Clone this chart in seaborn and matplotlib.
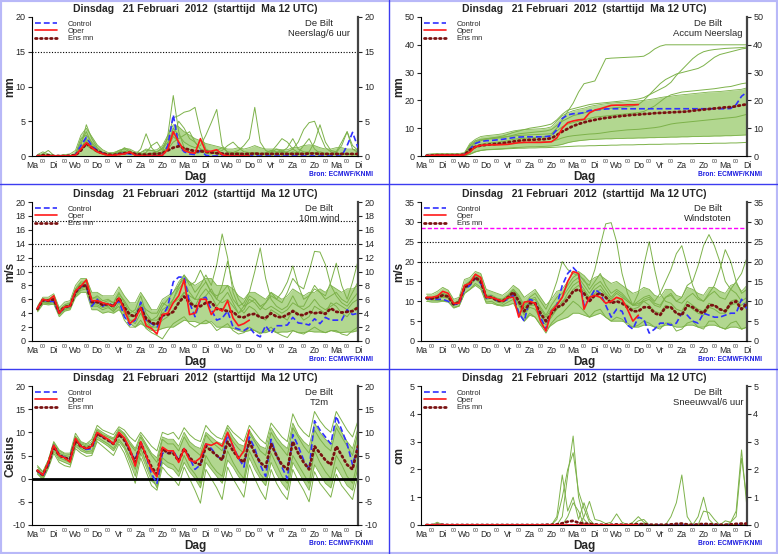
import numpy as np
import pandas as pd
import matplotlib
matplotlib.use("Agg")
import matplotlib.pyplot as plt
from matplotlib.lines import Line2D
from matplotlib.patches import Rectangle
import seaborn as sns

sns.set_style("white")
plt.rcParams["font.family"] = ["Liberation Sans", "DejaVu Sans"]
plt.rcParams["axes.unicode_minus"] = False

# tijdas: 6-uurs stappen na de start (Ma 12 UTC)
uur = list(range(6, 361, 6))
dagen = ["Ma", "Di", "Wo", "Do", "Vr", "Za", "Zo", "Ma",
         "Di", "Wo", "Do", "Vr", "Za", "Zo", "Ma", "Di"]
titel = "Dinsdag   21 Februari  2012  (starttijd  Ma 12 UTC)"

# ---------------- neerslag per 6 uur ----------------
rain_control = [0, 0, 0, 0, 0, 0, 0, 0.2, 1.5, 2.7,
                1.5, 0.8, 0.4, 0.1, 0.1, 0.3, 0.4, 0.3, 0.1, 0,
                0, 0, 0, 0.1, 1.5, 5.9, 1.5, 0.6, 0.3, 0.2,
                0.8, 0.1, 0, 0, 0, 0, 0, 0, 0, 0,
                0, 0, 0, 0, 0, 0, 0, 0, 0, 0,
                0, 0, 0, 0, 0, 0, 0, 1.5, 3.4, 1.2]
rain_oper = [0, 0, 0, 0, 0, 0, 0, 0.1, 1.0, 1.9,
             1.2, 0.6, 0.3, 0.1, 0.1, 0.2, 0.3, 0.6, 0.1, 0,
             0, 0, 0, 0.1, 1.0, 3.5, 2.0, 0.8, 0.5, 0.4,
             2.5, 0.6, 0.7, 0.9, 0.2, 0, 0, 0, 0, 0]
rain_mean = [0, 0.1, 0.1, 0, 0, 0, 0.05, 0.1, 0.8, 1.8,
             1.2, 0.7, 0.4, 0.2, 0.15, 0.3, 0.4, 0.5, 0.3, 0.2,
             0.2, 0.3, 0.3, 0.4, 0.8, 1.2, 1.4, 1.1, 0.9, 0.7,
             0.7, 0.6, 0.5, 0.4, 0.35, 0.3, 0.3, 0.3, 0.3, 0.3,
             0.35, 0.3, 0.3, 0.3, 0.3, 0.3, 0.3, 0.3, 0.3, 0.3,
             0.35, 0.35, 0.3, 0.3, 0.3, 0.3, 0.3, 0.3, 0.3, 0.3]
rain_hi = [0.2, 0.6, 0.3, 0.1, 0.1, 0.2, 0.3, 0.8, 3.0, 4.0,
           2.8, 1.6, 0.9, 0.5, 0.5, 0.8, 1.1, 1.0, 0.6, 0.5,
           0.8, 0.8, 0.9, 1.5, 3.0, 4.5, 4.2, 3.5, 3.0, 2.5,
           2.2, 1.8, 1.6, 1.4, 1.2, 1.0, 1.0, 1.2, 1.0, 1.2,
           1.5, 1.2, 1.0, 1.0, 1.0, 0.9, 0.9, 1.2, 1.2, 1.5,
           1.6, 1.5, 1.2, 1.0, 1.0, 1.2, 1.2, 1.0, 1.0, 0.8]
rain_lo = [0, 0, 0, 0, 0, 0, 0, 0, 0, 0,
           0, 0, 0, 0, 0, 0, 0, 0, 0, 0,
           0, 0, 0, 0, 0, 0, 0, 0, 0, 0,
           0, 0, 0, 0, 0, 0, 0, 0, 0, 0,
           0, 0, 0, 0, 0, 0, 0, 0, 0, 0,
           0, 0, 0, 0, 0, 0, 0, 0, 0, 0]
rain_m1 = [0, 0.3, 0.8, 0.1, 0, 0, 0, 0.3, 2.0, 3.5,
           1.8, 0.6, 0.3, 0.2, 0.2, 0.5, 1.2, 0.8, 0.2, 0.1,
           0.2, 0.3, 0.2, 0.5, 3.0, 8.7, 3.5, 1.2, 0.6, 0.4,
           0.5, 0.8, 0.5, 0.3, 0.2, 0.2, 0.3, 0.5, 0.3, 0.2,
           0.4, 0.3, 0.2, 0.2, 0.5, 0.8, 0.4, 0.3, 0.2, 0.3,
           0.5, 0.4, 0.2, 0.2, 0.3, 0.2, 0.2, 0.3, 0.2, 0.2]
rain_m2 = [0, 0, 0.2, 0, 0, 0, 0, 0.2, 1.5, 4.5,
           2.5, 1.2, 0.5, 0.2, 0.3, 0.8, 1.0, 0.6, 0.3, 0.5,
           1.0, 0.8, 0.6, 1.2, 2.5, 5.5, 5.8, 6.3, 6.5, 7.0,
           3.5, 1.0, 0.6, 0.4, 0.3, 0.2, 0.2, 0.2, 0.1, 0.2,
           0.3, 0.2, 0.2, 0.5, 1.0, 0.6, 0.3, 0.2, 0.5, 1.5,
           2.5, 1.0, 0.4, 0.2, 0.2, 0.3, 0.4, 0.3, 0.2, 0.3]
rain_m3 = [0, 0, 0, 0, 0, 0, 0, 0.1, 1.0, 2.5,
           1.5, 0.8, 0.4, 0.3, 0.2, 0.3, 0.5, 0.4, 0.2, 1.0,
           3.2, 1.2, 0.3, 0.4, 1.5, 4.0, 3.0, 2.0, 1.5, 1.2,
           1.5, 3.0, 4.8, 6.7, 1.5, 0.5, 0.3, 0.2, 0.2, 0.3,
           0.5, 0.4, 0.3, 0.2, 0.2, 0.2, 0.3, 0.6, 0.4, 0.3,
           0.3, 0.5, 0.6, 0.4, 0.3, 0.5, 1.5, 3.5, 1.0, 0.5]
rain_m4 = [0, 0, 0, 0, 0, 0, 0, 0.3, 2.5, 3.0,
           2.0, 1.0, 0.5, 0.3, 0.4, 0.6, 0.7, 0.4, 0.2, 0.2,
           0.3, 0.4, 0.6, 1.0, 2.0, 3.0, 5.0, 4.0, 2.5, 2.0,
           1.0, 0.6, 0.5, 0.8, 1.2, 0.6, 0.5, 0.8, 1.5, 2.5,
           7.0, 2.0, 0.8, 0.5, 0.4, 0.6, 1.2, 2.5, 1.0, 0.6,
           0.5, 0.4, 0.3, 0.3, 0.2, 0.2, 0.3, 0.2, 0.2, 0.2]
rain_m5 = [0, 0, 0, 0, 0, 0, 0, 0.2, 1.2, 2.2,
           1.2, 0.6, 0.3, 0.2, 0.2, 0.4, 0.6, 0.5, 0.3, 0.3,
           0.5, 1.5, 2.0, 0.8, 1.0, 2.0, 2.5, 3.0, 3.5, 2.0,
           1.0, 0.8, 0.6, 0.4, 0.3, 0.4, 0.5, 0.4, 0.3, 0.2,
           0.2, 0.3, 0.5, 0.8, 0.6, 0.5, 0.6, 1.0, 2.0, 3.8,
           4.8, 5.0, 3.0, 1.2, 0.6, 0.4, 0.3, 0.3, 0.2, 0.2]
rain_m6 = [0, 0, 0, 0, 0, 0, 0, 0.1, 0.8, 1.5,
           1.0, 0.5, 0.3, 0.2, 0.2, 0.3, 0.4, 0.6, 0.4, 0.3,
           0.2, 0.3, 0.4, 0.6, 1.2, 2.8, 2.0, 1.0, 0.6, 0.5,
           0.6, 0.4, 0.3, 0.5, 0.8, 1.5, 2.0, 1.2, 0.6, 0.5,
           0.4, 0.3, 0.3, 0.6, 1.5, 2.5, 2.0, 1.0, 0.5, 0.4,
           0.6, 2.0, 4.5, 2.0, 0.8, 0.6, 2.0, 3.5, 1.5, 0.8]

# ---------------- geaccumuleerde neerslag ----------------
accum_control = [0.1, 0.2, 0.3, 0.3, 0.3, 0.3, 0.3, 0.5, 2.5, 4.5,
                 5.2, 5.5, 5.6, 5.8, 6.0, 6.3, 6.6, 6.8, 6.9, 6.9,
                 6.9, 6.9, 7.0, 7.2, 9.5, 13.5, 14.8, 15.2, 15.3, 15.6,
                 16.4, 16.6, 16.7, 16.9, 17.0, 17.0, 17.0, 17.0, 17.0, 17.0,
                 17.0, 17.0, 17.0, 17.0, 17.0, 17.0, 17.0, 17.0, 17.0, 17.0,
                 17.0, 17.0, 17.0, 17.0, 17.0, 17.0, 17.1, 18.5, 21.5, 23.0]
accum_oper = [0.1, 0.2, 0.3, 0.3, 0.3, 0.3, 0.3, 0.4, 1.4, 3.3,
              3.8, 4.0, 4.0, 4.0, 4.1, 4.2, 4.5, 4.8, 4.9, 4.9,
              4.9, 4.9, 5.0, 5.1, 6.5, 10.0, 12.0, 12.6, 13.0, 13.2,
              15.5, 16.5, 17.0, 17.6, 18.2, 18.3, 18.3, 18.4, 18.4, 18.5]
accum_mean = [0.1, 0.2, 0.3, 0.3, 0.3, 0.3, 0.35, 0.5, 2.2, 3.3,
              3.8, 4.0, 4.2, 4.4, 4.6, 4.9, 5.2, 5.5, 5.7, 5.8,
              5.9, 6.0, 6.1, 6.4, 7.5, 8.8, 9.8, 10.8, 11.5, 12.1,
              12.6, 13.0, 13.4, 13.7, 13.9, 14.2, 14.4, 14.6, 14.8, 14.9,
              15.1, 15.2, 15.4, 15.5, 15.6, 15.7, 15.8, 15.9, 16.0, 16.3,
              16.5, 16.7, 16.9, 17.1, 17.3, 17.5, 17.6, 17.9, 18.3, 18.6]
accum_lo = [0, 0, 0, 0, 0, 0, 0, 0.1, 0.6, 1.5,
            2.0, 2.3, 2.4, 2.5, 2.6, 2.8, 3.0, 3.1, 3.2, 3.3,
            3.3, 3.4, 3.5, 3.6, 3.8, 4.2, 4.8, 5.2, 5.5, 5.7,
            5.9, 6.0, 6.1, 6.2, 6.2, 6.3, 6.3, 6.4, 6.4, 6.5,
            6.5, 6.6, 6.6, 6.7, 6.7, 6.8, 6.8, 6.9, 6.9, 7.0,
            7.0, 7.1, 7.1, 7.2, 7.2, 7.3, 7.3, 7.4, 7.5, 7.6]
accum_hi = [0.6, 0.8, 0.9, 0.9, 0.9, 0.9, 0.9, 1.2, 4.5, 6.0,
            7.0, 7.3, 7.5, 7.7, 8.0, 8.5, 9.0, 9.3, 9.5, 9.6,
            9.7, 9.8, 10.0, 10.5, 12.5, 14.5, 15.5, 16.3, 16.8, 17.2,
            17.8, 18.2, 18.5, 18.8, 19.0, 19.2, 19.3, 19.5, 19.6, 19.8,
            20.0, 20.3, 20.6, 21.0, 21.3, 21.5, 21.8, 22.0, 22.2, 22.4,
            22.6, 22.8, 23.0, 23.1, 23.2, 23.4, 23.6, 23.8, 24.0, 24.5]
accum_m1 = [0.1, 0.3, 0.5, 0.5, 0.5, 0.5, 0.5, 0.8, 4.0, 5.5,
            6.0, 6.2, 6.4, 6.6, 6.8, 7.0, 7.2, 7.4, 7.5, 7.6,
            7.7, 7.8, 7.9, 8.0, 10.0, 13.0, 16.0, 19.0, 23.0, 26.0,
            26.5, 27.0, 31.0, 35.0, 35.2, 35.3, 35.4, 35.5, 35.6, 35.7,
            35.9, 37.0, 38.5, 39.5, 40.0, 40.0, 40.0, 40.0, 40.0, 40.0,
            40.0, 40.0, 40.0, 40.0, 40.0, 40.0, 40.0, 40.0, 40.0, 40.0]
accum_m2 = [0.1, 0.2, 0.3, 0.3, 0.3, 0.3, 0.3, 0.5, 3.0, 4.5,
            5.5, 6.0, 6.2, 6.4, 6.6, 7.0, 7.5, 8.0, 8.2, 8.4,
            8.6, 8.8, 9.0, 9.5, 11.0, 12.5, 13.5, 14.5, 15.0, 15.5,
            16.0, 16.5, 16.8, 17.0, 17.2, 17.4, 17.6, 17.8, 18.0, 18.5,
            20.0, 22.0, 23.0, 24.0, 25.0, 26.5, 29.0, 31.0, 33.0, 35.0,
            36.5, 37.5, 38.0, 38.3, 38.5, 38.7, 38.8, 38.9, 39.0, 39.2]
accum_m3 = [0, 0.1, 0.2, 0.2, 0.2, 0.2, 0.2, 0.4, 2.0, 3.5,
            4.2, 4.6, 4.8, 5.0, 5.2, 5.5, 6.0, 6.2, 6.4, 6.5,
            6.6, 6.8, 7.0, 7.5, 9.0, 10.5, 11.5, 12.0, 12.5, 13.0,
            13.5, 14.0, 14.2, 14.4, 14.6, 14.8, 15.0, 15.2, 15.4, 15.6,
            16.0, 17.0, 18.0, 19.5, 21.0, 22.0, 22.5, 23.0, 23.2, 23.4,
            23.6, 23.8, 24.0, 24.2, 24.5, 24.8, 25.0, 25.5, 26.0, 26.3]
accum_m4 = [0.1, 0.2, 0.3, 0.3, 0.3, 0.3, 0.3, 0.6, 3.5, 5.0,
            5.8, 6.2, 6.5, 6.8, 7.2, 7.8, 8.5, 9.0, 9.5, 10.0,
            10.3, 10.6, 11.0, 11.5, 13.0, 15.0, 16.5, 17.0, 17.5, 18.0,
            18.5, 18.8, 19.0, 19.2, 19.4, 19.6, 19.8, 20.0, 20.2, 20.5,
            21.0, 22.0, 24.0, 26.0, 27.5, 28.5, 29.5, 30.0, 30.5, 31.0,
            31.5, 32.5, 34.0, 35.5, 36.5, 37.0, 37.5, 38.0, 38.5, 38.8]
accum_m5 = [0, 0, 0.1, 0.1, 0.1, 0.1, 0.1, 0.2, 0.8, 1.5,
            2.0, 2.2, 2.3, 2.4, 2.5, 2.6, 2.7, 2.8, 2.8, 2.9,
            2.9, 3.0, 3.0, 3.1, 3.2, 3.3, 3.4, 3.5, 3.6, 3.6,
            3.7, 3.7, 3.8, 3.8, 3.9, 3.9, 4.0, 4.0, 4.0, 4.1,
            4.1, 4.2, 4.2, 4.2, 4.3, 4.3, 4.3, 4.4, 4.4, 4.4,
            4.5, 4.5, 4.5, 4.6, 4.6, 4.6, 4.7, 4.7, 4.8, 4.9]
accum_m6 = [0.1, 0.2, 0.2, 0.2, 0.2, 0.2, 0.2, 0.3, 1.5, 3.0,
            3.5, 3.8, 4.0, 4.1, 4.2, 4.3, 4.5, 4.7, 4.8, 4.9,
            5.0, 5.0, 5.1, 5.2, 5.8, 6.5, 7.0, 7.3, 7.5, 7.7,
            7.9, 8.0, 8.2, 8.5, 8.8, 9.0, 9.2, 9.4, 9.5, 9.6,
            9.8, 10.0, 10.2, 10.5, 11.0, 11.5, 11.8, 12.0, 12.2, 12.4,
            12.6, 12.8, 13.0, 13.2, 13.4, 13.6, 13.8, 14.0, 14.5, 15.0]

# ---------------- 10m wind ----------------
wind_control = [4.6, 5.9, 5.7, 5.7, 4.0, 4.8, 5.0, 7.0, 7.8, 8.0,
                5.0, 6.0, 5.0, 5.5, 5.0, 5.8, 3.5, 2.3, 3.0, 5.6,
                3.0, 2.5, 2.0, 3.5, 5.0, 8.5, 9.2, 9.2, 5.5, 3.5,
                6.0, 6.3, 4.5, 3.0, 3.3, 4.3, 2.0, 1.7, 1.5, 2.0,
                1.0, 0.6, 2.2, 1.1, 2.2, 2.2, 2.3, 3.4, 2.6, 2.5,
                2.3, 3.2, 2.5, 3.4, 3.0, 3.0, 3.0, 4.5, 3.8, 4.0]
wind_oper = [4.7, 6.0, 5.8, 6.5, 4.0, 4.9, 5.0, 7.2, 7.9, 8.8,
             5.8, 5.8, 5.5, 5.3, 5.0, 6.2, 4.5, 2.5, 3.2, 4.8,
             2.2, 1.8, 1.0, 3.8, 4.0, 5.5, 6.5, 8.8, 3.8, 4.0,
             6.0, 6.0, 3.8, 4.8, 4.3, 5.8, 3.3, 2.2, 2.5, 3.0]
wind_mean = [4.6, 5.9, 5.8, 6.0, 4.1, 4.9, 5.0, 7.0, 7.9, 8.0,
             5.6, 5.6, 5.2, 5.3, 5.0, 6.2, 4.8, 3.8, 3.5, 4.8,
             3.2, 2.6, 2.4, 3.7, 3.8, 4.2, 5.5, 6.4, 5.5, 5.0,
             5.0, 5.5, 5.6, 4.6, 4.5, 4.3, 4.2, 3.5, 3.4, 3.8,
             3.9, 3.4, 3.3, 4.0, 3.5, 3.4, 3.8, 4.3, 3.8, 3.7,
             4.2, 4.0, 4.1, 3.9, 4.7, 4.2, 4.1, 4.2, 4.3, 4.8]
wind_lo = [4.2, 5.3, 5.2, 5.3, 3.5, 4.3, 4.5, 6.3, 7.0, 7.0,
           4.5, 4.5, 4.0, 4.2, 4.0, 4.5, 3.5, 2.5, 2.0, 2.5,
           2.0, 1.5, 1.5, 1.8, 2.0, 2.0, 2.5, 3.0, 2.8, 2.8,
           2.5, 2.5, 2.8, 2.0, 2.0, 2.0, 1.8, 1.5, 1.3, 1.5,
           1.5, 1.2, 1.2, 1.5, 1.2, 1.3, 1.3, 1.5, 1.2, 1.2,
           1.4, 1.3, 1.3, 1.2, 1.5, 1.3, 1.2, 1.3, 1.3, 1.5]
wind_hi = [5.0, 6.3, 6.3, 6.8, 4.8, 5.6, 5.8, 8.0, 9.0, 9.0,
           7.0, 7.0, 6.5, 6.5, 6.5, 7.8, 6.5, 5.5, 5.5, 7.0,
           5.8, 4.5, 4.5, 6.0, 6.5, 7.0, 8.5, 9.5, 8.5, 8.0,
           8.5, 9.0, 9.0, 8.0, 8.0, 8.0, 7.5, 6.5, 6.0, 7.0,
           7.0, 6.5, 6.0, 7.0, 6.5, 6.0, 6.5, 7.5, 7.0, 6.5,
           7.0, 7.0, 7.5, 7.0, 8.0, 7.5, 7.0, 7.5, 7.5, 8.0]
wind_m1 = [4.5, 5.5, 5.5, 6.0, 4.5, 5.2, 5.5, 7.5, 8.5, 8.5,
           6.0, 6.5, 5.8, 6.0, 5.5, 7.0, 5.5, 4.0, 4.5, 6.5,
           4.0, 3.0, 3.5, 5.0, 6.0, 7.0, 8.0, 9.0, 8.5, 7.0,
           8.0, 9.5, 8.0, 11.0, 15.4, 12.0, 7.0, 5.0, 4.0, 5.0,
           4.5, 3.5, 3.0, 4.5, 4.0, 3.5, 3.0, 4.5, 4.0, 3.0,
           3.5, 5.0, 4.5, 4.0, 5.5, 5.0, 4.0, 3.5, 4.5, 5.0]
wind_m2 = [4.8, 6.0, 6.0, 6.5, 4.3, 5.0, 5.3, 7.2, 8.0, 8.2,
           5.5, 6.0, 5.0, 5.5, 4.5, 6.5, 5.0, 3.0, 3.0, 5.0,
           3.0, 2.0, 2.5, 4.5, 5.0, 6.0, 7.5, 8.5, 7.0, 6.0,
           7.5, 8.5, 7.0, 6.5, 7.0, 8.0, 6.0, 5.0, 5.5, 7.0,
           10.0, 13.4, 9.0, 6.0, 5.0, 4.5, 5.0, 6.5, 5.0, 4.5,
           5.0, 6.0, 5.0, 4.5, 5.0, 5.5, 5.0, 4.5, 5.5, 6.0]
wind_m3 = [4.4, 5.6, 5.4, 5.8, 3.8, 4.6, 4.8, 6.6, 7.5, 7.8,
           5.2, 5.2, 4.8, 5.0, 4.2, 5.5, 4.0, 3.0, 2.5, 4.0,
           2.5, 2.0, 2.0, 3.0, 3.5, 4.5, 5.5, 7.0, 6.0, 5.0,
           6.5, 7.5, 6.5, 5.0, 6.0, 7.0, 5.5, 4.0, 4.5, 6.0,
           5.5, 4.5, 5.5, 7.0, 6.0, 5.5, 7.0, 9.0, 8.0, 7.5,
           10.0, 12.9, 12.8, 11.0, 8.0, 6.5, 5.5, 5.0, 6.0, 7.0]
wind_m4 = [4.7, 5.8, 5.9, 6.2, 4.2, 5.0, 5.2, 7.4, 8.3, 8.4,
           6.2, 6.2, 5.5, 5.8, 5.5, 6.8, 5.8, 4.5, 4.0, 5.5,
           4.5, 4.0, 4.0, 5.5, 5.0, 5.5, 6.0, 7.0, 6.5, 6.0,
           6.0, 6.5, 7.5, 6.0, 5.5, 6.0, 5.0, 4.0, 5.0, 6.5,
           6.0, 5.0, 5.5, 6.5, 6.0, 7.0, 8.5, 10.8, 8.0, 6.0,
           6.5, 7.5, 7.0, 6.5, 8.5, 11.2, 8.0, 6.0, 8.5, 11.5]
wind_m5 = [4.5, 5.7, 5.6, 5.9, 4.0, 4.8, 5.0, 6.8, 7.6, 7.9,
           5.4, 5.5, 5.0, 5.2, 4.8, 6.0, 4.5, 3.5, 3.5, 5.5,
           3.5, 3.0, 3.0, 4.0, 4.5, 6.0, 8.0, 9.5, 8.0, 8.5,
           10.2, 8.5, 7.0, 6.0, 8.0, 11.5, 8.0, 6.0, 5.0, 5.5,
           6.0, 5.0, 4.5, 5.0, 4.5, 4.0, 4.5, 5.5, 5.0, 5.0,
           6.5, 8.0, 7.0, 6.0, 6.5, 7.0, 6.0, 5.5, 7.0, 8.5]
wind_m6 = [4.4, 5.5, 5.4, 5.5, 3.8, 4.5, 4.7, 6.5, 7.3, 7.5,
           5.0, 5.0, 4.5, 4.8, 4.3, 5.0, 3.0, 2.0, 2.0, 3.0,
           1.8, 1.2, 0.8, 0.3, 1.5, 2.5, 3.0, 3.5, 2.5, 2.0,
           2.5, 3.0, 2.5, 1.5, 2.0, 2.5, 1.5, 1.0, 1.2, 2.0,
           1.5, 1.0, 1.5, 2.0, 1.2, 0.8, 0.5, 1.5, 1.2, 1.0,
           1.5, 2.0, 1.5, 1.2, 1.5, 1.5, 1.0, 0.8, 1.5, 2.0]

# ---------------- windstoten ----------------
gust_control = [10.7, 10.5, 10.5, 10.5, 10.0, 9.2, 9.3, 13.0, 14.0, 15.8,
                14.5, 10.8, 11.3, 10.2, 10.0, 10.5, 11.5, 7.0, 5.0, 10.5,
                10.0, 6.0, 3.0, 7.5, 9.0, 14.0, 17.0, 18.5, 17.0, 9.0,
                10.5, 13.0, 12.0, 9.0, 6.0, 8.0, 7.5, 4.0, 3.0, 6.0,
                5.5, 2.0, 3.0, 4.5, 4.5, 4.0, 4.5, 7.0, 6.5, 5.0,
                4.5, 7.0, 6.5, 6.0, 6.0, 6.5, 7.0, 7.0, 10.5, 8.0]
gust_oper = [11.0, 11.0, 11.3, 12.5, 12.0, 9.5, 9.5, 14.0, 14.5, 16.8,
             16.0, 11.0, 11.0, 10.5, 10.0, 11.0, 11.0, 6.0, 9.8, 10.0,
             9.5, 5.0, 2.5, 7.5, 9.0, 11.0, 15.0, 17.5, 17.0, 8.0,
             11.0, 11.5, 11.0, 9.5, 10.0, 11.0, 10.5, 8.0, 5.0, 6.5]
gust_mean = [10.8, 10.7, 11.0, 11.5, 11.2, 9.2, 9.8, 13.5, 14.5, 16.0,
             15.0, 11.0, 11.0, 10.2, 10.0, 11.0, 12.3, 10.0, 7.5, 9.5,
             9.5, 7.0, 5.0, 7.0, 8.5, 9.0, 10.5, 12.5, 13.0, 12.0,
             10.0, 11.5, 12.0, 11.0, 9.5, 10.0, 9.5, 8.5, 7.5, 7.5,
             8.5, 8.5, 7.0, 6.5, 8.5, 8.5, 7.0, 6.5, 9.0, 8.5,
             7.5, 7.0, 9.0, 9.0, 8.0, 7.5, 9.5, 10.0, 8.0, 9.5]
gust_lo = [10.0, 9.8, 9.8, 10.0, 9.8, 8.3, 8.8, 12.0, 13.0, 14.0,
           13.0, 9.5, 9.5, 9.0, 8.8, 9.0, 9.5, 7.0, 5.0, 6.5,
           6.0, 4.0, 3.0, 4.0, 5.0, 5.5, 6.0, 7.0, 7.0, 6.5,
           6.0, 6.5, 7.0, 6.0, 5.0, 5.0, 5.0, 4.5, 3.5, 3.5,
           4.0, 4.0, 3.5, 3.5, 4.0, 4.0, 3.5, 3.5, 4.0, 4.0,
           3.5, 3.5, 4.0, 4.0, 3.5, 3.0, 3.5, 3.5, 3.0, 3.5]
gust_hi = [11.8, 11.8, 12.5, 13.5, 12.8, 10.5, 11.0, 15.5, 16.0, 17.5,
           17.0, 13.0, 12.5, 12.0, 11.5, 12.5, 14.0, 13.0, 11.0, 12.0,
           13.0, 11.0, 9.0, 10.5, 12.5, 13.0, 15.0, 17.0, 17.5, 16.5,
           15.0, 16.0, 16.5, 15.5, 14.5, 15.0, 14.0, 13.0, 12.0, 12.5,
           13.5, 13.0, 11.5, 11.0, 13.0, 13.0, 11.5, 11.0, 13.5, 13.0,
           12.0, 11.5, 13.5, 13.5, 12.5, 12.0, 14.0, 14.5, 12.5, 14.0]
gust_m1 = [11.0, 10.8, 11.5, 12.0, 11.5, 9.5, 10.0, 14.0, 15.0, 16.5,
           15.5, 11.5, 11.5, 10.5, 10.5, 11.5, 13.0, 11.0, 8.5, 10.5,
           11.0, 8.5, 6.5, 9.0, 11.0, 12.0, 14.0, 16.0, 17.0, 15.0,
           14.0, 18.0, 24.0, 29.5, 29.8, 25.0, 17.0, 12.0, 9.0, 9.5,
           10.0, 9.0, 7.5, 7.0, 9.0, 8.5, 7.0, 6.5, 9.0, 8.0,
           7.0, 6.5, 8.5, 8.0, 7.0, 7.0, 9.0, 9.5, 8.0, 9.0]
gust_m2 = [10.6, 10.5, 10.8, 11.0, 10.8, 9.0, 9.5, 13.0, 14.0, 15.5,
           14.5, 10.5, 10.8, 9.8, 9.5, 10.5, 11.5, 9.0, 6.5, 8.5,
           8.0, 5.5, 4.0, 6.0, 8.0, 9.5, 12.0, 14.0, 15.0, 13.0,
           11.0, 13.0, 14.0, 12.0, 10.5, 12.0, 11.0, 10.0, 9.0, 12.0,
           19.0, 25.0, 18.0, 12.0, 10.0, 9.5, 8.0, 7.5, 10.0, 9.0,
           8.0, 7.5, 9.5, 9.0, 8.0, 7.5, 10.0, 10.5, 9.0, 10.0]
gust_m3 = [10.9, 10.6, 11.2, 11.8, 11.0, 9.0, 9.6, 13.2, 14.2, 15.8,
           14.8, 11.2, 11.0, 10.0, 9.8, 11.0, 12.0, 9.5, 7.0, 9.0,
           9.0, 6.5, 4.5, 6.5, 8.0, 10.0, 11.0, 13.0, 14.0, 12.5,
           10.5, 12.0, 13.0, 11.5, 10.0, 11.0, 10.0, 9.0, 8.0, 8.5,
           10.0, 10.5, 9.0, 8.5, 11.0, 12.0, 10.0, 11.0, 14.0, 15.0,
           19.0, 24.0, 26.8, 24.0, 20.0, 15.0, 13.0, 12.0, 10.0, 11.0]
gust_m4 = [10.7, 10.6, 11.0, 11.4, 11.0, 9.2, 9.8, 13.6, 14.6, 16.2,
           15.2, 11.0, 11.2, 10.4, 10.2, 11.2, 12.5, 10.5, 8.0, 10.0,
           10.5, 8.0, 6.0, 8.0, 9.5, 11.0, 13.0, 15.0, 16.0, 14.0,
           12.0, 14.0, 15.0, 13.0, 11.0, 12.5, 11.5, 10.0, 9.0, 10.0,
           11.0, 11.5, 10.0, 12.0, 15.0, 18.0, 22.0, 24.0, 19.0, 14.0,
           11.0, 10.0, 12.0, 14.0, 18.0, 23.0, 20.0, 15.0, 12.0, 13.0]
gust_m5 = [10.8, 10.8, 11.3, 12.0, 11.5, 9.5, 10.2, 14.0, 15.0, 16.5,
           15.5, 11.5, 11.5, 10.8, 10.5, 11.5, 13.0, 11.5, 9.0, 11.0,
           12.0, 10.0, 8.0, 11.0, 15.0, 20.0, 18.0, 17.0, 16.5, 15.5,
           13.0, 15.0, 17.0, 14.0, 12.0, 13.0, 12.0, 10.5, 9.0, 9.0,
           10.5, 11.0, 9.5, 9.0, 11.0, 11.5, 10.0, 9.5, 11.0, 12.0,
           10.5, 10.0, 11.5, 12.5, 11.0, 10.5, 13.0, 15.0, 17.0, 21.0]
gust_m6 = [10.5, 10.3, 10.2, 10.2, 10.0, 8.5, 8.8, 12.0, 13.0, 14.5,
           13.5, 9.8, 10.0, 9.2, 9.0, 9.8, 10.5, 7.5, 5.0, 7.0,
           6.0, 4.0, 2.0, 4.5, 6.0, 7.0, 8.5, 10.0, 9.0, 7.5,
           6.0, 7.5, 8.0, 6.0, 5.0, 6.0, 5.5, 4.0, 3.5, 4.0,
           5.0, 4.5, 3.5, 3.0, 4.5, 4.5, 2.5, 3.0, 4.5, 5.0,
           3.5, 3.0, 5.0, 5.0, 3.5, 3.0, 4.5, 5.0, 3.0, 3.5]

# ---------------- temperatuur 2 m ----------------
t2m_control = [1.7, 0.5, 3.0, 7.2, 5.2, 4.6, 4.3, 8.5, 7.0, 6.3,
               6.5, 9.8, 9.0, 8.2, 7.5, 9.8, 8.5, 6.0, 4.0, 8.0,
               5.0, 1.0, -1.0, 5.5, 5.5, 6.0, 4.0, 6.5, 4.5, 2.0,
               3.0, 7.5, 6.5, 5.0, 4.0, 9.5, 7.0, 4.5, 2.5, 9.0,
               6.5, 3.0, 0.5, 8.5, 5.0, 2.5, 0.0, 9.5, 7.0, 4.0,
               2.0, 12.5, 10.5, 9.0, 7.5, 13.5, 10.5, 7.5, 3.0, 7.0]
t2m_oper = [1.8, 0.8, 3.5, 7.2, 5.0, 4.5, 3.6, 8.7, 7.0, 6.5,
            7.0, 10.0, 9.2, 8.5, 7.5, 10.0, 8.8, 6.5, 2.7, 8.0,
            5.0, 2.0, 0.4, 6.8, 6.0, 6.0, 3.5, 6.5, 4.0, 3.6,
            4.5, 7.5, 7.2, 7.8, 7.0, 10.0, 7.0, 4.3, 6.0, 10.5]
t2m_mean = [1.7, 0.8, 3.2, 7.0, 5.0, 4.5, 4.2, 8.2, 7.0, 6.5,
            7.0, 9.7, 9.0, 8.3, 7.5, 9.6, 8.3, 6.0, 3.5, 7.7,
            5.0, 2.5, 1.0, 6.5, 5.5, 5.5, 3.8, 6.5, 4.5, 3.5,
            3.0, 7.0, 6.0, 5.0, 4.0, 8.0, 6.0, 4.5, 3.5, 8.0,
            5.5, 3.5, 2.5, 7.5, 5.0, 3.0, 2.0, 8.0, 5.5, 3.5,
            2.0, 7.0, 5.5, 4.0, 3.0, 7.0, 5.0, 3.0, 2.0, 7.0]
t2m_lo = [1.2, 0.0, 2.5, 6.0, 4.0, 3.5, 3.0, 7.0, 6.0, 5.5,
          5.5, 8.5, 7.8, 7.0, 6.0, 8.0, 6.5, 3.5, 0.5, 5.5,
          2.5, -0.5, -1.5, 3.5, 2.5, 2.0, 0.5, 3.5, 1.5, 0.0,
          -2.0, 3.5, 2.0, 0.5, -1.0, 4.0, 2.5, 0.5, -1.0, 4.5,
          2.0, 0.0, -1.5, 3.5, 1.0, -1.0, -2.5, 3.5, 1.5, -0.5,
          -2.5, 3.0, 1.0, -1.0, -2.0, 2.5, 0.5, -1.5, -2.5, 2.5]
t2m_hi = [2.5, 1.5, 4.0, 7.8, 6.0, 5.3, 5.2, 9.2, 7.8, 7.3,
          8.0, 10.8, 10.0, 9.3, 8.8, 10.8, 9.8, 8.0, 6.5, 9.5,
          7.5, 5.5, 4.5, 9.0, 8.5, 8.5, 7.0, 10.0, 8.0, 7.0,
          6.5, 10.0, 9.0, 8.0, 7.5, 11.0, 9.0, 7.5, 7.0, 10.5,
          8.5, 7.0, 6.5, 11.0, 9.0, 7.5, 6.5, 12.0, 9.5, 8.0,
          7.0, 12.0, 10.0, 8.5, 7.5, 12.0, 10.0, 8.0, 6.5, 11.0]
t2m_m1 = [2.8, 1.5, 4.0, 8.0, 6.2, 5.5, 5.5, 9.8, 8.0, 7.5,
          8.5, 11.5, 10.5, 10.0, 9.5, 11.2, 10.5, 9.0, 8.0, 10.0,
          8.5, 7.0, 6.0, 10.0, 9.5, 10.0, 8.5, 11.0, 9.5, 8.5,
          8.0, 11.5, 10.0, 9.0, 8.5, 11.5, 10.0, 9.0, 8.0, 11.5,
          10.0, 8.5, 7.5, 12.0, 10.5, 9.0, 8.0, 14.0, 11.5, 10.0,
          9.0, 14.5, 12.5, 11.0, 10.0, 14.5, 12.5, 10.5, 9.0, 12.5]
t2m_m2 = [1.0, -0.2, 2.2, 5.5, 3.5, 2.8, 2.5, 6.5, 5.5, 4.8,
          5.0, 8.0, 7.0, 6.0, 5.0, 7.5, 5.5, 2.5, -1.0, 4.5,
          1.5, -1.5, -2.5, 2.5, 1.0, 0.0, -1.5, 2.5, 0.0, -2.5,
          -5.3, 2.0, 0.0, -2.0, -4.5, 2.5, 0.0, -2.0, -4.0, 3.0,
          0.0, -2.5, -4.5, 2.0, -1.0, -3.0, -4.5, 2.0, -0.5, -2.5,
          -5.0, 1.5, -1.0, -2.5, -4.0, 1.0, -1.5, -3.0, -4.5, 1.0]
t2m_m3 = [1.5, 0.3, 2.8, 6.5, 4.5, 4.0, 3.5, 7.5, 6.5, 5.8,
          6.0, 9.0, 8.2, 7.5, 6.5, 8.5, 7.0, 4.5, 2.0, 6.5,
          3.5, 0.5, -2.0, 4.5, 3.5, 3.0, 1.5, 5.0, 2.5, 1.0,
          -1.0, 5.0, 3.0, 1.5, 0.5, 6.0, 3.5, 1.5, 0.0, 6.0,
          3.5, 1.0, -0.5, 5.5, 3.0, 0.5, -1.0, 5.0, 3.0, 1.0,
          -1.0, 6.0, 3.5, 1.5, 0.0, 5.0, 3.0, 0.5, -1.0, 4.0]
t2m_m4 = [2.0, 1.0, 3.5, 7.5, 5.5, 5.0, 4.8, 9.0, 7.5, 7.0,
          7.5, 10.5, 9.5, 9.0, 8.5, 10.5, 9.5, 7.5, 6.0, 9.0,
          7.0, 5.0, 3.5, 8.5, 7.5, 7.5, 6.0, 9.0, 7.0, 6.0,
          5.0, 9.5, 8.0, 7.0, 6.0, 10.0, 8.0, 6.5, 5.5, 10.0,
          8.0, 6.0, 5.0, 10.0, 8.0, 6.5, 5.0, 11.0, 9.0, 7.0,
          5.5, 10.5, 8.5, 7.0, 6.0, 11.0, 9.0, 7.0, 5.0, 10.0]

# ---------------- sneeuwval per 6 uur ----------------
snow_control = [0, 0, 0, 0, 0, 0, 0, 0, 0, 0,
                0, 0, 0, 0, 0, 0, 0, 0, 0, 0,
                0, 0, 0, 0, 0, 0, 0, 0, 0, 0,
                0, 0, 0, 0, 0, 0, 0, 0, 0, 0,
                0, 0, 0, 0, 0, 0, 0, 0, 0, 0,
                0, 0, 0, 0, 0, 0, 0, 0, 0, 0]
snow_oper = [0, 0, 0, 0, 0, 0, 0, 0, 0, 0,
             0, 0, 0, 0, 0, 0, 0, 0, 0, 0,
             0, 0, 0, 0, 0, 0, 0, 0, 0, 0,
             0, 0, 0, 0, 0, 0, 0, 0, 0, 0]
snow_mean = [0, 0, 0.01, 0.01, 0, 0, 0, 0, 0, 0,
             0, 0, 0, 0, 0, 0, 0, 0, 0, 0,
             0, 0, 0.01, 0.01, 0.02, 0.06, 0.12, 0.15, 0.08, 0.05,
             0.04, 0.02, 0.01, 0.01, 0.01, 0.02, 0.01, 0.01, 0.02, 0.03,
             0.03, 0.01, 0.01, 0.01, 0.01, 0.02, 0.04, 0.05, 0.02, 0.01,
             0.02, 0.04, 0.03, 0.02, 0.01, 0.01, 0.02, 0.04, 0.05, 0.05]
snow_m1 = [0, 0, 0.1, 0, 0, 0, 0, 0, 0, 0,
           0, 0, 0, 0, 0, 0, 0, 0, 0, 0,
           0, 0, 0, 0, 0, 0.3, 1.8, 3.2, 1.0, 0.2,
           0, 0, 0, 0, 0, 0, 0, 0, 0, 0,
           0, 0, 0, 0, 0, 0, 0, 0, 0, 0,
           0, 0, 0, 0, 0, 0, 0, 0, 0, 0]
snow_m2 = [0, 0, 0, 0, 0, 0, 0, 0, 0, 0,
           0, 0, 0, 0, 0, 0, 0, 0, 0, 0,
           0, 0, 0, 0, 0.2, 1.0, 2.0, 2.6, 1.2, 0.6,
           0.1, 0, 0, 0, 0, 0, 0, 0, 0, 0,
           0.05, 0, 0, 0, 0, 0, 0, 0, 0, 0,
           0, 0, 0, 0, 0, 0, 0, 0, 0, 0]
snow_m3 = [0, 0, 0, 0, 0, 0, 0, 0, 0, 0,
           0, 0, 0, 0, 0, 0, 0, 0, 0, 0,
           0, 0, 0, 0, 0.3, 1.8, 0.5, 1.0, 0.2, 0.8,
           0.2, 0, 0, 0, 0, 0, 0, 0, 0, 0,
           0, 0, 0, 0, 0, 0.3, 0.8, 1.8, 0.3, 0,
           0, 0, 0, 0, 0, 0, 0, 0, 0, 0]
snow_m4 = [0, 0, 0, 0, 0, 0, 0, 0, 0, 0,
           0, 0, 0, 0, 0, 0, 0, 0, 0, 0,
           0, 0, 0, 0, 0, 0, 0, 0, 0, 0.3,
           0.85, 0.2, 0.15, 0.05, 0.1, 0.4, 0.1, 0, 0.1, 0.3,
           0.1, 0, 0, 0, 0, 0, 0, 0, 0, 0,
           0, 0, 0, 0, 0, 0, 0, 0, 0, 0]
snow_m5 = [0, 0, 0, 0, 0, 0, 0, 0, 0, 0,
           0, 0, 0, 0, 0, 0, 0, 0, 0, 0,
           0, 0, 0, 0, 0, 0, 0, 0, 0, 0,
           0, 0, 0, 0, 0, 0, 0, 0, 0, 0,
           0, 0, 0, 0, 0, 0, 0, 0, 0, 0,
           0.3, 1.0, 0.2, 0, 0, 0, 0.1, 0.5, 2.7, 0.6]
snow_m6 = [0, 0, 0, 0, 0, 0, 0, 0, 0, 0,
           0, 0, 0, 0, 0, 0, 0, 0, 0, 0,
           0, 0, 0, 0, 0, 0, 0.3, 0.8, 0.5, 0,
           0, 0, 0, 0, 0, 0, 0, 0, 0, 0.15,
           0.2, 0, 0, 0, 0, 0, 0, 0, 0, 0,
           0, 0.5, 0.45, 0.2, 0, 0.15, 0.1, 0.3, 2.4, 0.9]

GROEN = "#7db24a"
BAND = "#9fcd75"
BLAUW = "#3030ff"
ROOD = "#ff1a1a"
DONKERROOD = "#7a1212"


def leden_tabel(leden):
    rijen = []
    for k, lid in enumerate(leden):
        for h, v in zip(uur, lid):
            rijen.append({"lid": k, "uur": h, "waarde": v})
    return pd.DataFrame(rijen)


def paneel(ax, naam, eenheid, ylim, ystap, lo, hi, leden, control, oper, gem, lijnen=()):
    if hi is not None:
        ax.fill_between(uur, lo, hi, color=BAND, lw=0, alpha=0.8, zorder=1)
        sns.lineplot(x=uur, y=hi, color=GROEN, lw=0.6, ax=ax, zorder=1.5)
        sns.lineplot(x=uur, y=lo, color=GROEN, lw=0.6, ax=ax, zorder=1.5)
    sns.lineplot(data=leden_tabel(leden), x="uur", y="waarde", units="lid",
                 estimator=None, color=GROEN, lw=0.7, ax=ax, legend=False, zorder=2)
    for y, kleur, stijl, dikte in lijnen:
        ax.axhline(y, color=kleur, ls=stijl, lw=dikte, zorder=2.5)
    sns.lineplot(x=uur, y=control, color=BLAUW, lw=1.2, linestyle=(0, (3.5, 1.8)),
                 ax=ax, label="Control", zorder=3)
    sns.lineplot(x=uur, y=gem, color=DONKERROOD, lw=2.0, linestyle=(0, (0.6, 1.2)),
                 dash_capstyle="round", ax=ax, label="Ens mn", zorder=3.2)
    sns.lineplot(x=uur[:len(oper)], y=oper, color=ROOD, lw=1.2, ax=ax,
                 label="Oper", zorder=3.4)

    h, l = ax.get_legend_handles_labels()
    volgorde = [l.index("Control"), l.index("Oper"), l.index("Ens mn")]
    ax.legend([h[i] for i in volgorde], [l[i] for i in volgorde],
              loc="upper left", frameon=False, fontsize=5.4, handlelength=2.9,
              handletextpad=1.4, labelspacing=0.0, borderaxespad=0.25,
              borderpad=0.2)

    ax.set_xlim(0, 360)
    ax.set_ylim(*ylim)
    ax.set_yticks(np.arange(ylim[0], ylim[1] + 0.01, ystap))
    ax.set_xticks(range(0, 361, 24), dagen)
    ax.set_xticks(range(12, 360, 24), ["00"] * 15, minor=True)
    ax.tick_params(axis="x", which="major", labelsize=6.2, length=3, pad=0.6,
                   color="#555555")
    ax.tick_params(axis="x", which="minor", labelsize=3.8, length=2, pad=0.2,
                   color="#999999")
    ax.tick_params(axis="y", left=True, right=True, labelleft=True,
                   labelright=True, labelsize=6.5, length=3, pad=1.5)
    for s in ["left", "bottom"]:
        ax.spines[s].set_color("black")
        ax.spines[s].set_linewidth(0.8)
    ax.spines["top"].set_visible(False)
    ax.spines["right"].set_color("#444444")
    ax.spines["right"].set_linewidth(1.6)

    ax.set_ylabel(eenheid, fontsize=8.5, fontweight="bold")
    ax.yaxis.set_label_coords(-0.047, 0.5)
    ax.set_xlabel("Dag", fontsize=8.5, fontweight="bold")
    ax.xaxis.set_label_coords(0.5, -0.108)

    ax.text(0.5, 1.058, titel, transform=ax.transAxes, ha="center", va="center",
            fontsize=7.5, fontweight="bold")
    ax.text(0.88, 0.955, "De Bilt", transform=ax.transAxes, ha="center",
            va="center", fontsize=6.8)
    ax.text(0.88, 0.88, naam, transform=ax.transAxes, ha="center",
            va="center", fontsize=6.8)
    ax.text(0.948, -0.135, "Bron: ECMWF/KNMI", transform=ax.transAxes,
            ha="center", va="center", fontsize=4.8, fontweight="bold",
            color="#1a1ae0")


fig = plt.figure(figsize=(7.78, 5.54), dpi=100)
fig.patch.set_facecolor("white")

links = [32 / 778, 421 / 778]
onder = [1 - 156 / 554, 1 - 341 / 554, 1 - 525 / 554]
breed = 326 / 778
hoog = 139 / 554

ax1 = fig.add_axes([links[0], onder[0], breed, hoog])
paneel(ax1, "Neerslag/6 uur", "mm", (0, 20), 5, rain_lo, rain_hi,
       [rain_m1, rain_m2, rain_m3, rain_m4, rain_m5, rain_m6],
       rain_control, rain_oper, rain_mean,
       lijnen=[(15, "black", (0, (1, 1.5)), 0.8)])

ax2 = fig.add_axes([links[1], onder[0], breed, hoog])
paneel(ax2, "Accum Neerslag", "mm", (0, 50), 10, accum_lo, accum_hi,
       [accum_m1, accum_m2, accum_m3, accum_m4, accum_m5, accum_m6],
       accum_control, accum_oper, accum_mean)

ax3 = fig.add_axes([links[0], onder[1], breed, hoog])
paneel(ax3, "10m wind", "m/s", (0, 20), 2, wind_lo, wind_hi,
       [wind_m1, wind_m2, wind_m3, wind_m4, wind_m5, wind_m6],
       wind_control, wind_oper, wind_mean,
       lijnen=[(10.8, "black", (0, (1, 1.5)), 0.8),
               (13.9, "black", (0, (1, 1.5)), 0.8),
               (17.2, "black", (0, (1, 1.5)), 0.8)])

ax4 = fig.add_axes([links[1], onder[1], breed, hoog])
paneel(ax4, "Windstoten", "m/s", (0, 35), 5, gust_lo, gust_hi,
       [gust_m1, gust_m2, gust_m3, gust_m4, gust_m5, gust_m6],
       gust_control, gust_oper, gust_mean,
       lijnen=[(20, "black", (0, (1, 1.5)), 0.8),
               (25, "black", (0, (1, 1.5)), 0.8),
               (28.5, "#ff00ff", (0, (3, 1.5)), 1.0)])

ax5 = fig.add_axes([links[0], onder[2], breed, hoog])
paneel(ax5, "T2m", "Celsius", (-10, 20), 5, t2m_lo, t2m_hi,
       [t2m_m1, t2m_m2, t2m_m3, t2m_m4],
       t2m_control, t2m_oper, t2m_mean,
       lijnen=[(0, "black", "-", 2.0)])

ax6 = fig.add_axes([links[1], onder[2], breed, hoog])
paneel(ax6, "Sneeuwval/6 uur", "cm", (0, 5), 1, None, None,
       [snow_m1, snow_m2, snow_m3, snow_m4, snow_m5, snow_m6],
       snow_control, snow_oper, snow_mean)

# scheidingslijnen tussen de panelen en rand
for y in [1 - 184 / 554, 1 - 369 / 554]:
    fig.add_artist(Line2D([0, 1], [y, y], color="#3c3cf0", lw=1.0))
fig.add_artist(Line2D([0.5, 0.5], [0, 1], color="#3c3cf0", lw=1.0))
fig.add_artist(Rectangle((0, 0), 1, 1, transform=fig.transFigure, fill=False,
                         edgecolor="#b8b8f8", lw=3))

fig.savefig("out.png", dpi=100)
